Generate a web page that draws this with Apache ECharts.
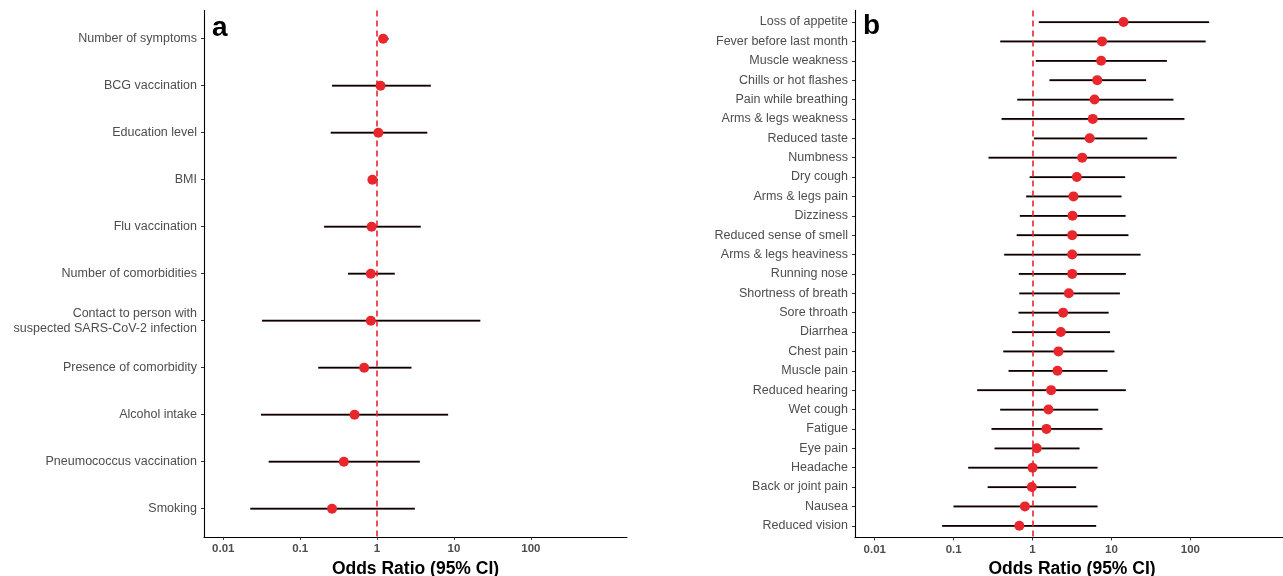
<!DOCTYPE html>
<html>
<head>
<meta charset="utf-8">
<script src="https://cdn.jsdelivr.net/npm/echarts@6/dist/echarts.min.js"></script>
<style>
html,body{margin:0;padding:0;background:#fff;}
#chart{width:1283px;height:576px;}
</style>
</head>
<body>
<div id="chart"></div>
<script>
// ---- Panel a ----
const leftCategories = [
  'Number of symptoms','BCG vaccination','Education level','BMI','Flu vaccination',
  'Number of comorbidities','Contact to person with\nsuspected SARS-CoV-2 infection',
  'Presence of comorbidity','Alcohol intake','Pneumococcus vaccination','Smoking'
];
const leftOR    = [1.20, 1.11, 1.04, 0.87, 0.85, 0.83, 0.83, 0.68, 0.51, 0.37, 0.26];
const leftLower = [1.06, 0.26, 0.25, 0.77, 0.205, 0.42, 0.032, 0.172, 0.031, 0.039, 0.0225];
const leftUpper = [1.41, 5.0, 4.5, 1.02, 3.7, 1.7, 22, 2.8, 8.4, 3.6, 3.1];

// ---- Panel b ----
const rightCategories = [
  'Loss of appetite','Fever before last month','Muscle weakness','Chills or hot flashes',
  'Pain while breathing','Arms & legs weakness','Reduced taste','Numbness','Dry cough',
  'Arms & legs pain','Dizziness','Reduced sense of smell','Arms & legs heaviness',
  'Running nose','Shortness of breath','Sore throath','Diarrhea','Chest pain','Muscle pain',
  'Reduced hearing','Wet cough','Fatigue','Eye pain','Headache','Back or joint pain',
  'Nausea','Reduced vision'
];
const rightOR    = [14.2, 7.6, 7.4, 6.6, 6.1, 5.8, 5.3, 4.26, 3.64, 3.3, 3.21, 3.18, 3.18, 3.18,
                    2.88, 2.44, 2.28, 2.13, 2.07, 1.72, 1.59, 1.50, 1.13, 1.0, 0.98, 0.80, 0.68];
const rightLower = [1.20, 0.39, 1.10, 1.64, 0.64, 0.405, 1.04, 0.277, 0.92, 0.83, 0.69, 0.63, 0.437, 0.67,
                    0.68, 0.665, 0.55, 0.425, 0.497, 0.199, 0.389, 0.302, 0.33, 0.153, 0.27, 0.0996, 0.0715];
const rightUpper = [173, 156, 50.4, 27.5, 61, 84, 28.4, 67, 14.9, 13.4, 15.1, 16.4, 23.4, 15.2,
                    12.8, 9.2, 9.6, 10.9, 8.9, 15.2, 6.8, 7.7, 3.94, 6.66, 3.57, 6.66, 6.4];

const xTickValues = [0.01, 0.1, 1, 10, 100];

const FONT = "'Liberation Sans', Arial, sans-serif";
const RED = '#e8262b';

function idxArray(n){ const a=[]; for(let i=1;i<=n;i++) a.push(i); return a; }

function xAxisDef(gridIndex){
  return {
    type:'log', logBase:10, gridIndex,
    min: Math.pow(10,-2.25), max: Math.pow(10,3.25),
    name:'Odds Ratio (95% CI)', nameLocation:'middle', nameGap:18,
    nameTextStyle:{fontFamily:FONT, fontWeight:'bold', fontSize:17.5, color:'#000'},
    axisLine:{show:true, lineStyle:{color:'#000', width:1.1}},
    axisTick:{show:true, length:3, customValues:xTickValues, lineStyle:{color:'#333', width:1}},
    axisLabel:{show:true, customValues:xTickValues, margin:6, fontFamily:FONT, fontWeight:'bold',
      fontSize:11.5, color:'#4d4d4d',
      formatter: v => v >= 1 ? Math.round(v).toString() : String(+(+v).toPrecision(1))},
    splitLine:{show:false}
  };
}

function yAxisDef(gridIndex, cats){
  const vals = idxArray(cats.length);
  return {
    type:'value', gridIndex, inverse:true,
    min:0.4, max:cats.length+0.6,
    axisLine:{show:true, lineStyle:{color:'#000', width:1.1}},
    axisTick:{show:true, length:3, customValues:vals, lineStyle:{color:'#333', width:1}},
    axisLabel:{show:true, customValues:vals, margin:7, fontFamily:FONT, fontSize:12.5,
      color:'#4d4d4d', lineHeight:15, align:'right',
      formatter: v => {
        const name = cats[Math.round(v)-1];
        return name === undefined ? '' : name;
      }
    },
    splitLine:{show:false}
  };
}

function errData(lower, upper){
  return lower.map((lo,i)=>[i+1, lo, upper[i]]);
}
function ptData(or){
  return or.map((v,i)=>[v, i+1]);
}

function errSeries(axisIndex, lower, upper){
  return {
    type:'custom', xAxisIndex:axisIndex, yAxisIndex:axisIndex,
    data: errData(lower, upper),
    encode:{x:[1,2], y:0},
    silent:true, z:2,
    renderItem:(params, api)=>{
      const y = api.value(0);
      const p1 = api.coord([api.value(1), y]);
      const p2 = api.coord([api.value(2), y]);
      return {
        type:'group',
        children:[
          {type:'line', shape:{x1:p1[0], y1:p1[1]+0.5, x2:p2[0], y2:p2[1]+0.5},
           style:{stroke:'#b04040', lineWidth:1.6, opacity:0.4}},
          {type:'line', shape:{x1:p1[0], y1:p1[1], x2:p2[0], y2:p2[1]},
           style:{stroke:'#0a0202', lineWidth:1.8}}
        ]
      };
    }
  };
}

function ptSeries(axisIndex, or){
  return {
    type:'scatter', xAxisIndex:axisIndex, yAxisIndex:axisIndex,
    data: ptData(or), symbol:'circle', symbolSize:10,
    itemStyle:{color:RED, opacity:1}, z:3, silent:true,
    markLine:{
      silent:true, symbol:['none','none'], label:{show:false},
      lineStyle:{color:RED, type:[6,4], width:1.6},
      data:[{xAxis:1}]
    }
  };
}

const chart = echarts.init(document.getElementById('chart'), null, {renderer:'canvas'});
chart.setOption({
  animation:false,
  backgroundColor:'#fff',
  grid:[
    {left:204, top:10.5, width:423, height:526.4, outerBoundsMode:'none', containLabel:false},
    {left:855, top:10.4, width:434, height:527, outerBoundsMode:'none', containLabel:false}
  ],
  xAxis:[xAxisDef(0), xAxisDef(1)],
  yAxis:[yAxisDef(0, leftCategories), yAxisDef(1, rightCategories)],
  series:[
    errSeries(0, leftLower, leftUpper),
    ptSeries(0, leftOR),
    errSeries(1, rightLower, rightUpper),
    ptSeries(1, rightOR)
  ],
  graphic:[
    {type:'text', left:212, top:14, z:10,
     style:{text:'a', font:"bold 28px 'Liberation Sans', Arial, sans-serif", fill:'#000'}},
    {type:'text', left:863, top:12, z:10,
     style:{text:'b', font:"bold 28px 'Liberation Sans', Arial, sans-serif", fill:'#000'}}
  ]
});
</script>
</body>
</html>
